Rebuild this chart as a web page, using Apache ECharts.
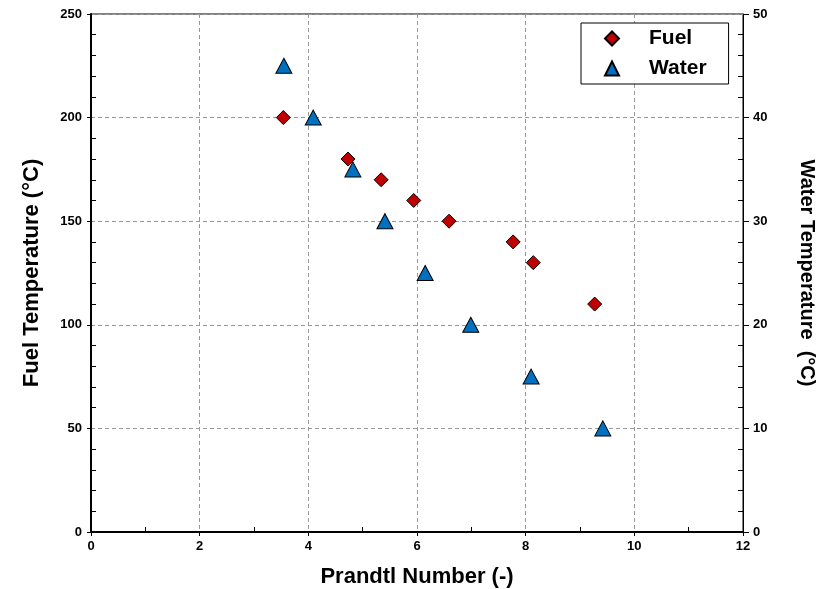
<!DOCTYPE html>
<html><head><meta charset="utf-8">
<script src="https://cdn.jsdelivr.net/npm/echarts@6/dist/echarts.min.js"></script>
<style>html,body{margin:0;padding:0;background:#fff}#c{width:818px;height:589px}</style>
</head><body><div id="c"></div>
<script>
const fuelX = [3.54, 4.73, 5.34, 5.94, 6.59, 7.77, 8.14, 9.27];
const fuelT = [200, 180, 170, 160, 150, 140, 130, 110];
const waterX = [3.55, 4.09, 4.82, 5.41, 6.15, 6.99, 8.10, 9.42];
const waterT = [45, 40, 35, 30, 25, 20, 15, 10];
const seriesNames = ['Fuel', 'Water'];

const F = 'Liberation Sans, Arial, sans-serif';
const chart = echarts.init(document.getElementById('c'));
const lbl = {fontFamily: F, fontWeight: 'bold', fontSize: 13, color: '#000'};
const ttl = {fontFamily: F, fontWeight: 'bold', fontSize: 22, color: '#000'};
chart.setOption({
  animation: false,
  grid: {left: 91, right: 75, top: 14, bottom: 57, show: true, borderColor: '#000', borderWidth: 1,
         containLabel: false, outerBoundsMode: 'none'},
  legend: {
    left: 581, top: 23, orient: 'vertical', backgroundColor: '#fff',
    borderColor: '#000', borderWidth: 1, padding: [5, 22, 5, 23], itemGap: 9,
    itemWidth: 14, itemHeight: 14,
    textStyle: {fontFamily: F, fontWeight: 'bold', fontSize: 21, color: '#000', padding: [0, 0, 0, 25]},
    data: seriesNames
  },
  xAxis: {
    type: 'value', min: 0, max: 12, interval: 2,
    name: 'Prandtl Number (-)', nameLocation: 'middle', nameGap: 34,
    nameTextStyle: ttl,
    axisLine: {lineStyle: {color: '#000', width: 2}},
    axisTick: {show: true, inside: false, length: 4, lineStyle: {color: '#000'}},
    minorTick: {show: true, splitNumber: 2, length: -5, lineStyle: {color: '#000'}},
    axisLabel: Object.assign({margin: 8}, lbl),
    splitLine: {show: true, lineStyle: {color: '#999', type: [4, 3]}}
  },
  yAxis: [{
    type: 'value', min: 0, max: 250, interval: 50,
    name: 'Fuel Temperature (°C)', nameLocation: 'middle', nameGap: 48,
    nameTextStyle: ttl,
    axisLine: {show: true, lineStyle: {color: '#000', width: 2}},
    axisTick: {show: true, inside: false, length: 4, lineStyle: {color: '#000'}},
    minorTick: {show: true, splitNumber: 5, length: -5, lineStyle: {color: '#000'}},
    axisLabel: Object.assign({margin: 9}, lbl),
    splitLine: {show: true, lineStyle: {color: '#999', type: [4, 3]}}
  }, {
    type: 'value', min: 0, max: 50, interval: 10, position: 'right',
    name: 'Water Temperature  (°C)', nameLocation: 'middle', nameGap: 54, nameRotate: -90,
    nameTextStyle: Object.assign({}, ttl, {fontSize: 20}),
    axisLine: {show: true, lineStyle: {color: '#000', width: 1}},
    axisTick: {show: true, inside: false, length: 6, lineStyle: {color: '#000'}},
    minorTick: {show: true, splitNumber: 5, length: -5, lineStyle: {color: '#000'}},
    axisLabel: Object.assign({margin: 10}, lbl),
    splitLine: {show: false}
  }],
  series: [{
    name: seriesNames[0], type: 'scatter', yAxisIndex: 0, symbol: 'diamond', symbolSize: 14,
    itemStyle: {color: '#C00000', borderColor: '#000', borderWidth: 1, opacity: 1},
    data: fuelX.map((x, i) => [x, fuelT[i]])
  }, {
    name: seriesNames[1], type: 'scatter', yAxisIndex: 1, symbol: 'triangle', symbolSize: [16, 15],
    itemStyle: {color: '#0070C0', borderColor: '#000', borderWidth: 1, opacity: 1},
    data: waterX.map((x, i) => [x, waterT[i]])
  }]
});
</script></body></html>
